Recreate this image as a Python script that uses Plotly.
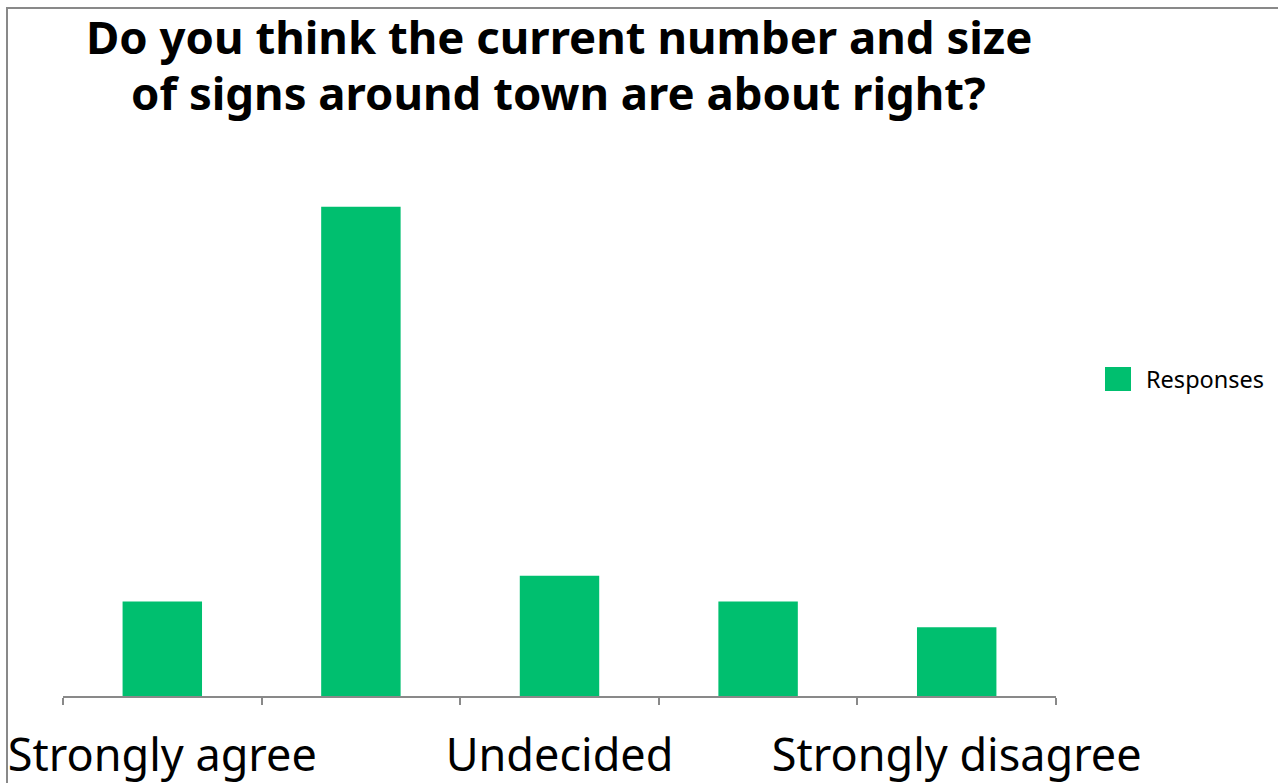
import plotly.graph_objects as go

categories = ["Strongly agree", "Agree", "Undecided", "Disagree", "Strongly disagree"]
responses = [11, 57, 14, 11, 8]
shown_labels = ["Strongly agree", "", "Undecided", "", "Strongly disagree"]
series_name = "Responses"
title_lines = ["Do you think the current number and size",
               "of signs around town are about right?"]

GREEN = "#00BF6F"
GRAY = "#898989"
W, H = 1278, 783
L, R, T, B = 63, 222, 181, 87
PW, PH = W - L - R, H - T - B


def px(x):
    return (x - L) / PW


def py(y):
    return (H - B - y) / PH


fig = go.Figure()
fig.add_trace(go.Bar(x=categories, y=responses, name=series_name,
                     marker=dict(color=GREEN, line=dict(width=0)),
                     showlegend=False))

title_annots = [
    dict(text=t, xref="paper", yref="paper", x=px(558.5), y=py(yc),
         xanchor="center", yanchor="middle", showarrow=False,
         font=dict(family="Noto Sans", size=45.5, color="black", weight="bold"))
    for t, yc in zip(title_lines, [36, 92])
]

fig.update_layout(
    width=W, height=H,
    margin=dict(l=L, r=R, t=T, b=B, autoexpand=False),
    paper_bgcolor="white", plot_bgcolor="white",
    bargap=0.6,
    xaxis=dict(type="category", tickmode="array", tickvals=categories, ticktext=shown_labels,
               tickangle=0, ticklabelstandoff=19,
               showline=True, linecolor=GRAY, linewidth=2, ticks="outside", tickson="boundaries",
               ticklen=7, tickwidth=2, tickcolor=GRAY, showgrid=False,
               tickfont=dict(family="Noto Sans", size=45, color="black")),
    yaxis=dict(range=[0, 60], visible=False, showgrid=False),
    shapes=[
        dict(type="rect", xref="paper", yref="paper", x0=px(7), x1=1.3, y0=-0.5, y1=py(8),
             line=dict(color=GRAY, width=2), fillcolor="rgba(0,0,0,0)", layer="below"),
        dict(type="rect", xref="paper", yref="paper", x0=px(1105), x1=px(1131),
             y0=py(391), y1=py(367), line=dict(width=0), fillcolor=GREEN),
    ],
    annotations=title_annots + [
        dict(text=series_name, xref="paper", yref="paper", x=px(1144), y=py(379),
             xanchor="left", yanchor="middle", showarrow=False,
             font=dict(family="Noto Sans", size=23.5, color="black")),
    ],
)

fig.write_html("out.html")
